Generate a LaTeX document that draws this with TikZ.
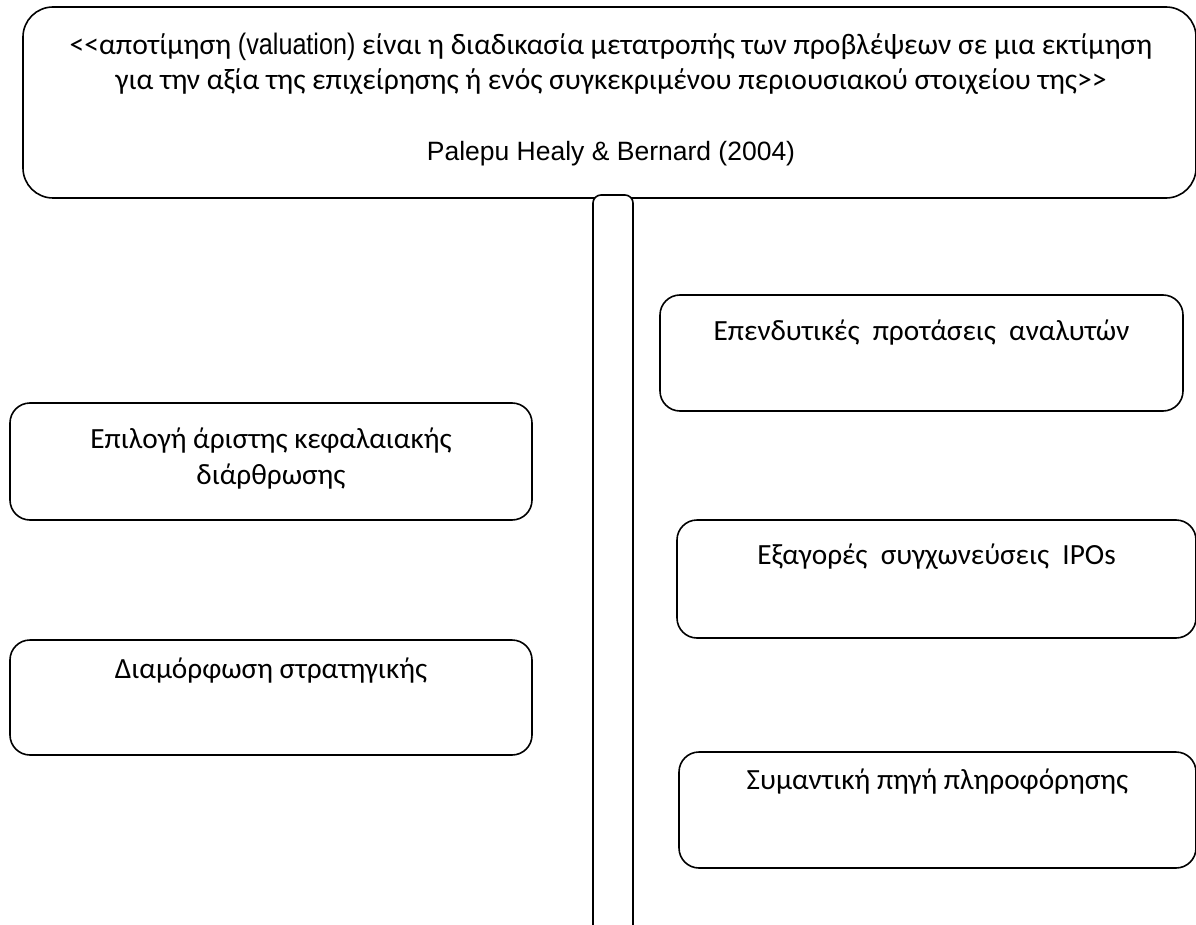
\documentclass[tikz,border=0pt]{standalone}
\usepackage{fontspec}
\setmainfont{Carlito}
\newfontfamily\latinfont{Liberation Sans}
\newfontfamily\narrowfont[FakeStretch=0.85]{Liberation Sans}
\begin{document}
\begin{tikzpicture}[x=1pt,y=-1pt,
  box/.style={draw=black, line width=1.6pt, rounded corners=20pt, fill=white, inner sep=0pt},
  boxtext/.style={inner sep=0pt, align=center, font=\fontsize{29.3}{36}\selectfont},
  toptext/.style={inner sep=0pt, align=center, font=\fontsize{29.6}{35}\selectfont}]
\useasboundingbox (0,0) rectangle (1196,925);
\clip (0,0) rectangle (1196,925);
% top box
\node[box, rounded corners=30pt, minimum width=1173pt, minimum height=191pt] (top) at (609.5,102.5) {};
\node[toptext] (def) at (611,64) {<{}<αποτίμηση {\narrowfont(valuation)} είναι η διαδικασία μετατροπής των προβλέψεων σε μια εκτίμηση\\για την αξία της επιχείρησης ή ενός συγκεκριμένου περιουσιακού στοιχείου της>{}>};
\node[toptext, font=\latinfont\fontsize{26.5}{35}\selectfont] (ref) at (611,154) {Palepu Healy \& Bernard (2004)};
% vertical bar
\node[box, rounded corners=8pt, minimum width=40pt, minimum height=740pt] (bar) at (613,565) {};
% right boxes
\node[box, minimum width=523pt, minimum height=116pt] (r1) at (921.5,353) {};
\node[boxtext] (r1t) at (921.5,333) {Επενδυτικές\ \ προτάσεις\ \ αναλυτών};
\node[box, minimum width=519pt, minimum height=118pt] (r2) at (936.5,579) {};
\node[boxtext] (r2t) at (936.5,557) {Εξαγορές\ \ συγχωνεύσεις\ \ IPOs};
\node[box, minimum width=517pt, minimum height=116pt] (r3) at (937.5,810) {};
\node[boxtext] (r3t) at (937.5,782) {Συμαντική πηγή πληροφόρησης};
% left boxes
\node[box, minimum width=522pt, minimum height=117pt] (l1) at (271,461.5) {};
\node[boxtext] (l1t) at (271,459) {Επιλογή άριστης κεφαλαιακής\\διάρθρωσης};
\node[box, minimum width=522pt, minimum height=115pt] (l2) at (271,697.5) {};
\node[boxtext] (l2t) at (271,671) {Διαμόρφωση στρατηγικής};
\end{tikzpicture}
\end{document}
